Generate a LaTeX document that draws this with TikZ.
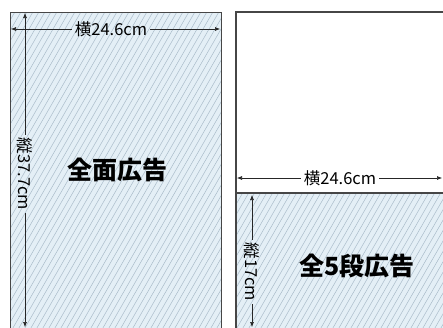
\documentclass[tikz,border=0pt]{standalone}
\usepackage{fontspec}
\newfontfamily\jp{Noto Sans CJK JP}
\usetikzlibrary{arrows.meta}
\definecolor{hatchbg}{RGB}{228,239,246}
\definecolor{hatchln}{RGB}{170,188,202}
\definecolor{edge}{RGB}{70,70,70}
\tikzset{
  dim/.style={draw=black!85, line width=0.6pt, -{Latex[length=5pt,width=4pt]}},
  dimlbl/.style={font=\jp\fontsize{16.5}{16.5}\selectfont, inner sep=3pt},
  bigtxt/.style={font=\jp\bfseries\fontsize{25}{25}\selectfont, inner sep=0pt},
}
\begin{document}
\begin{tikzpicture}[x=1pt,y=-1pt]
\useasboundingbox (0,0) rectangle (443,327);
% left panel hatched
\begin{scope}
  \clip (10,12) rectangle (221,340);
  \fill[hatchbg] (10,12) rectangle (221,340);
  \foreach \i in {-300,-294,...,240} {
    \draw[hatchln, line width=0.5pt] (\i,340) -- ++(190,-330);
  }
\end{scope}
\draw[edge, line width=0.8pt] (221,340) -- (10,340) -- (10,12) -- (221,12);
\draw[edge, line width=0.9pt] (221,12) -- (221,340);
% right panel
\fill[white] (236,12) rectangle (450,340);
\begin{scope}
  \clip (236,193) rectangle (450,340);
  \fill[hatchbg] (236,193) rectangle (450,340);
  \foreach \i in {-100,-94,...,460} {
    \draw[hatchln, line width=0.5pt] (\i,340) -- ++(190,-330);
  }
\end{scope}
\draw[edge, line width=1.2pt] (450,12) -- (236,12) -- (236,340);
\draw[edge, line width=1.6pt] (236,193) -- (450,193);
% left dimensions
\node[dimlbl] (lw) at (111,29) {横24.6cm};
\coordinate (lwL) at (11,29);
\coordinate (lwR) at (220,29);
\draw[dim] (lw.west) -- (lwL);
\draw[dim] (lw.east) -- (lwR);
\node[dimlbl, rotate=-90] (lh) at (25,174) {縦37.7cm};
\coordinate (lhT) at (25,13);
\coordinate (lhB) at (25,327);
\draw[dim] (lh.west) -- (lhT);
\draw[dim] (lh.east) -- (lhB);
\node[bigtxt] (t1) at (117,170) {全面広告};
% right dimensions
\node[dimlbl] (rw) at (340,178) {横24.6cm};
\coordinate (rwL) at (237,178);
\coordinate (rwR) at (442,178);
\draw[dim] (rw.west) -- (rwL);
\draw[dim] (rw.east) -- (rwR);
\node[dimlbl, rotate=-90] (rh) at (252,272) {縦17cm};
\coordinate (rhT) at (252,195);
\coordinate (rhB) at (252,327);
\draw[dim] (rh.west) -- (rhT);
\draw[dim] (rh.east) -- (rhB);
\node[bigtxt] (t2) at (357,266) {全5段広告};
\end{tikzpicture}
\end{document}
